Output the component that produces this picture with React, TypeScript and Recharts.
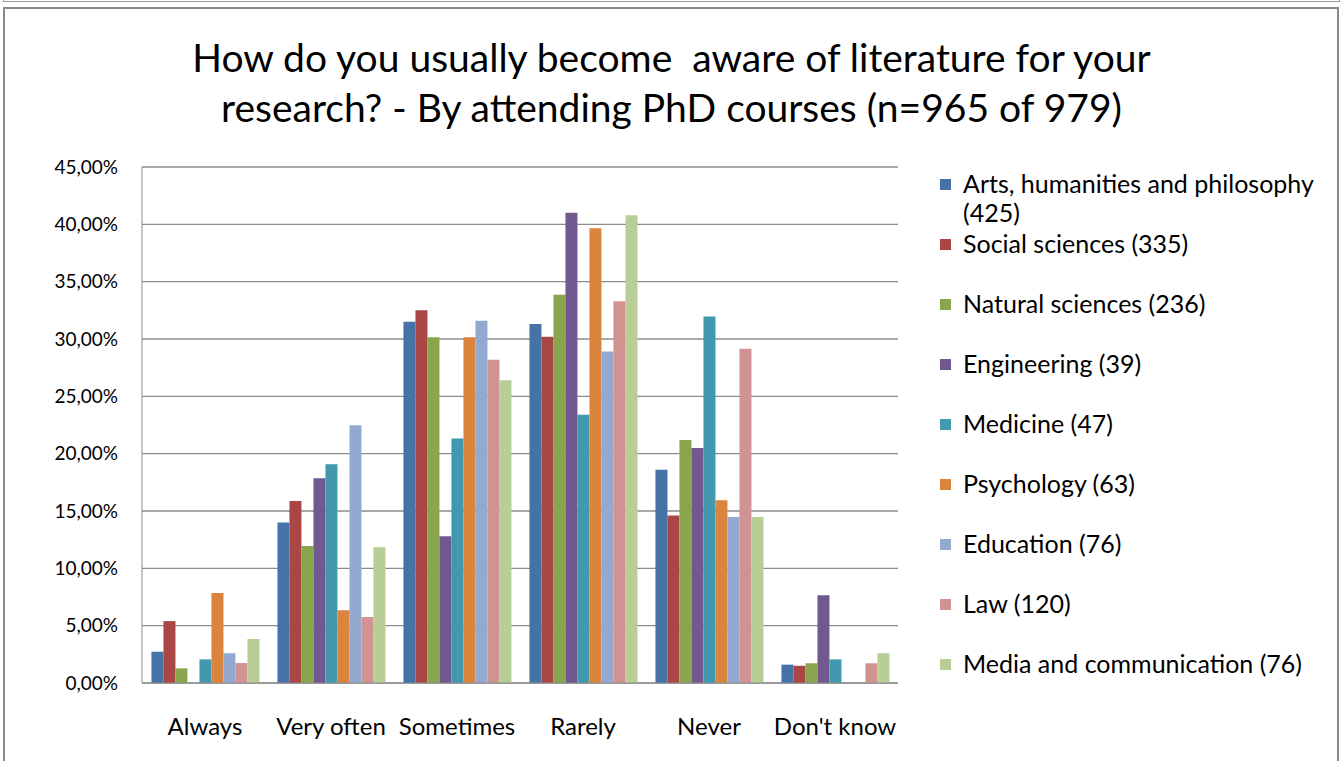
import React from 'react';
import { BarChart, Bar, CartesianGrid, XAxis, YAxis } from 'recharts';

// Answer categories on the x axis
const categories = ['Always', 'Very often', 'Sometimes', 'Rarely', 'Never', "Don't know"];

// Share of respondents (%) per faculty, in category order
const arts = [2.73, 14.0, 31.5, 31.3, 18.6, 1.6];
const social = [5.4, 15.87, 32.5, 30.2, 14.6, 1.5];
const natural = [1.28, 11.94, 30.16, 33.85, 21.2, 1.72];
const engineering = [0, 17.85, 12.79, 41.0, 20.5, 7.65];
const medicine = [2.06, 19.07, 21.33, 23.4, 31.97, 2.06];
const psychology = [7.85, 6.34, 30.16, 39.66, 15.93, 0];
const education = [2.6, 22.47, 31.6, 28.9, 14.47, 0];
const law = [1.74, 5.75, 28.2, 33.3, 29.15, 1.72];
const media = [3.84, 11.83, 26.4, 40.8, 14.47, 2.6];

const yTicks = [0, 5, 10, 15, 20, 25, 30, 35, 40, 45];

const series = [
  { key: 'arts', name: 'Arts, humanities and philosophy (425)', values: arts, color: '#4572A7' },
  { key: 'social', name: 'Social sciences (335)', values: social, color: '#AA4643' },
  { key: 'natural', name: 'Natural sciences (236)', values: natural, color: '#89A54E' },
  { key: 'engineering', name: 'Engineering (39)', values: engineering, color: '#71588F' },
  { key: 'medicine', name: 'Medicine (47)', values: medicine, color: '#4198AF' },
  { key: 'psychology', name: 'Psychology (63)', values: psychology, color: '#DB843D' },
  { key: 'education', name: 'Education (76)', values: education, color: '#93A9CF' },
  { key: 'law', name: 'Law (120)', values: law, color: '#D19392' },
  { key: 'media', name: 'Media and communication (76)', values: media, color: '#B9CD96' },
];

const chartData = categories.map((cat, i) => {
  const row: Record<string, string | number> = { category: cat };
  series.forEach((s) => {
    row[s.key] = s.values[i];
  });
  return row;
});

const FONT = 'Lato, "Open Sans", sans-serif';

const formatPct = (v: number) => v.toFixed(2).replace('.', ',') + '%';

export default function App() {
  return (
    <div
      style={{
        position: 'fixed',
        left: 0,
        top: 0,
        width: 1343,
        height: 761,
        background: '#fff',
        overflow: 'hidden',
        fontFamily: FONT,
      }}
    >
      {/* frame of the previous chart peeking in at the top */}
      <div
        style={{
          position: 'absolute',
          left: 3,
          top: -20,
          width: 1335,
          height: 20,
          border: '1px solid #999',
        }}
      />
      {/* chart frame */}
      <div
        style={{
          position: 'absolute',
          left: 3,
          top: 7,
          width: 1336,
          height: 770,
          border: '2px solid #8a8a8a',
          boxSizing: 'border-box',
        }}
      />

      {/* Title */}
      <div
        style={{
          position: 'absolute',
          left: 0,
          top: 32,
          width: 1343,
          textAlign: 'center',
          fontSize: 39,
          lineHeight: '50px',
          color: '#000',
        }}
      >
        <div>How do you usually become&nbsp; aware of literature for your</div>
        <div>research? - By attending PhD courses (n=965 of 979)</div>
      </div>

      {/* Chart */}
      <div style={{ position: 'absolute', left: 0, top: 0 }}>
        <BarChart
          width={910}
          height={761}
          data={chartData}
          margin={{ top: 167, right: 12, left: 0, bottom: 0 }}
          barCategoryGap="7.5%"
          barGap={0}
        >
          <CartesianGrid vertical={false} stroke="#8c8c8c" strokeWidth={1.3} />
          <XAxis
            dataKey="category"
            height={78}
            tickLine={false}
            tickSize={0}
            tickMargin={35}
            stroke="#8c8c8c"
            interval={0}
            tick={{ fill: '#000', fontSize: 24, fontFamily: FONT }}
          />
          <YAxis
            width={142}
            domain={[0, 45]}
            ticks={yTicks}
            tickFormatter={formatPct}
            tickLine={false}
            tickSize={0}
            tickMargin={24}
            stroke="#8c8c8c"
            interval={0}
            tick={{ fill: '#000', fontSize: 19, fontFamily: FONT }}
          />
          {series.map((s) => (
            <Bar
              key={s.key}
              dataKey={s.key}
              name={s.name}
              fill={s.color}
              isAnimationActive={false}
            />
          ))}
        </BarChart>
      </div>

      {/* Legend */}
      <div style={{ position: 'absolute', left: 940, top: 169, width: 395 }}>
        {series.map((s, i) => (
          <div
            key={s.key}
            style={{
              position: 'absolute',
              left: 0,
              top: i * 60,
              display: 'flex',
              alignItems: 'flex-start',
              fontSize: 25,
              lineHeight: '29px',
              color: '#000',
              whiteSpace: 'normal',
            }}
          >
            <span
              style={{
                display: 'inline-block',
                width: 11,
                height: 11,
                background: s.color,
                marginTop: 10,
                marginRight: 12,
                flex: 'none',
              }}
            />
            <span style={{ width: 372 }}>{s.name}</span>
          </div>
        ))}
      </div>
    </div>
  );
}
